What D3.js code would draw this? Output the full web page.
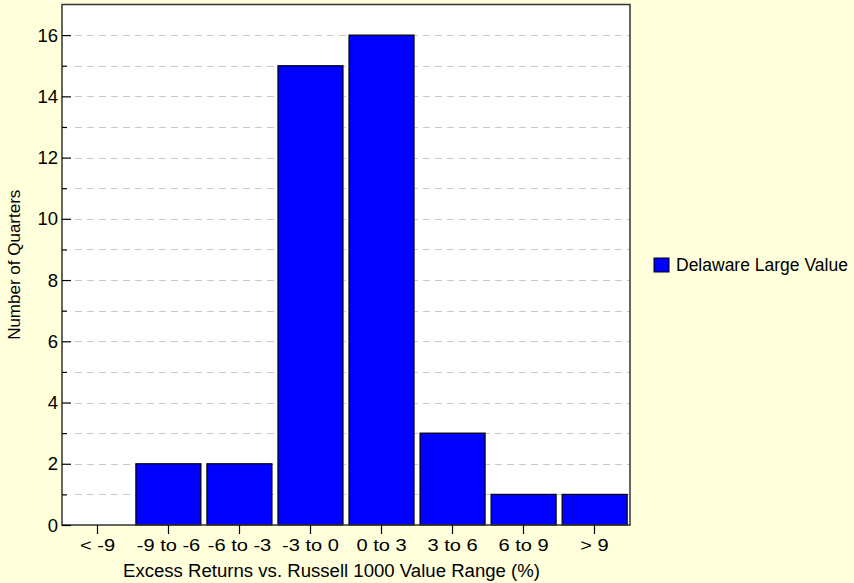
<!DOCTYPE html>
<html>
<head>
<meta charset="utf-8">
<script src="https://cdn.jsdelivr.net/npm/d3@7"></script>
<style>
  html, body { margin: 0; padding: 0; background: #FFFFDC; }
  svg { display: block; }
  text { font-family: Arial, "Liberation Sans", sans-serif; fill: #000; }
</style>
</head>
<body>
<script>
const categories = ["< -9", "-9 to -6", "-6 to -3", "-3 to 0", "0 to 3", "3 to 6", "6 to 9", "> 9"];
const values = [0, 2, 2, 15, 16, 3, 1, 1];
const seriesName = "Delaware Large Value";
const yMajorTicks = [0, 2, 4, 6, 8, 10, 12, 14, 16];
const yMinorTicks = [1, 3, 5, 7, 9, 11, 13, 15];
const xTitle = "Excess Returns vs. Russell 1000 Value Range (%)";
const yTitle = "Number of Quarters";

const W = 854, H = 583;
const plot = { left: 62, right: 630, top: 4.5, bottom: 525 };

const svg = d3.select("body").append("svg").attr("width", W).attr("height", H);
svg.append("rect").attr("width", W).attr("height", H).attr("fill", "#FFFFDC");

const x = d3.scaleBand().domain(categories).range([plot.left, plot.right]).paddingInner(0.085).paddingOuter(0.04);
const xc = d3.scaleBand().domain(categories).range([plot.left, plot.right]);
const y = d3.scaleLinear().domain([0, 17]).range([plot.bottom, plot.top]);

// plot background
svg.append("rect").attr("x", plot.left).attr("y", plot.top)
  .attr("width", plot.right - plot.left).attr("height", plot.bottom - plot.top)
  .attr("fill", "#FFFFFF");

// grid lines
svg.append("g").selectAll("line").data(yMajorTicks.concat(yMinorTicks).filter(d => d > 0))
  .join("line")
  .attr("x1", plot.left + 13).attr("x2", plot.right)
  .attr("y1", d => Math.round(y(d)) + 0.5).attr("y2", d => Math.round(y(d)) + 0.5)
  .attr("stroke", "#C8C8C8").attr("stroke-width", 1).attr("stroke-dasharray", "7,5");

// bars
svg.append("g").selectAll("rect").data(values.map((v, i) => ({ c: categories[i], v })).filter(d => d.v > 0))
  .join("rect")
  .attr("x", d => x(d.c)).attr("width", x.bandwidth())
  .attr("y", d => y(d.v)).attr("height", d => y(0) - y(d.v))
  .attr("fill", "#0000FF").attr("stroke", "#000").attr("stroke-width", 1.2);

// plot border
svg.append("rect").attr("x", plot.left).attr("y", plot.top)
  .attr("width", plot.right - plot.left).attr("height", plot.bottom - plot.top)
  .attr("fill", "none").attr("stroke", "#333").attr("stroke-width", 1.5);

// y axis (ticks inward)
const yAxis = d3.axisRight(y).tickValues(yMajorTicks).tickSize(9).tickFormat("");
const yg = svg.append("g").attr("transform", `translate(${plot.left},0)`).call(yAxis);
yg.select(".domain").remove();
yg.selectAll(".tick line").attr("stroke", "#000").attr("stroke-width", 1.2);
const yMinor = d3.axisRight(y).tickValues(yMinorTicks).tickSize(5).tickFormat("");
const ym = svg.append("g").attr("transform", `translate(${plot.left},0)`).call(yMinor);
ym.select(".domain").remove();
ym.selectAll(".tick line").attr("stroke", "#000").attr("stroke-width", 1.2);
// y labels
svg.append("g").selectAll("text").data(yMajorTicks).join("text")
  .attr("x", plot.left - 4).attr("y", d => y(d)).attr("dy", "0.36em")
  .attr("text-anchor", "end").attr("font-size", 18.5).text(d => d);

// x axis
const xAxis = d3.axisBottom(xc).tickSize(9).tickSizeOuter(0).tickPadding(5);
const xg = svg.append("g").attr("transform", `translate(0,${plot.bottom})`).call(xAxis);
xg.select(".domain").remove();
xg.selectAll(".tick line").attr("stroke", "#000").attr("stroke-width", 1.2);
xg.selectAll(".tick text").attr("font-size", 17).attr("font-family", "Arial, 'Liberation Sans', sans-serif")
  .attr("fill", "#000").attr("transform", "scale(1.18,1)");

// axis titles
svg.append("text").attr("x", 123).attr("y", 577)
  .attr("text-anchor", "start").attr("font-size", 18)
  .attr("textLength", 417).attr("lengthAdjust", "spacingAndGlyphs").text(xTitle);
svg.append("text").attr("transform", `translate(20,${(plot.top + plot.bottom) / 2}) rotate(-90)`)
  .attr("text-anchor", "middle").attr("font-size", 17).text(yTitle);

// legend
const lg = svg.append("g").attr("transform", "translate(654,258)");
lg.append("rect").attr("width", 15).attr("height", 14).attr("fill", "#0000FF").attr("stroke", "#000").attr("stroke-width", 1);
lg.append("text").attr("x", 22).attr("y", 7).attr("dy", "0.36em").attr("font-size", 17.5).text(seriesName);
</script>
</body>
</html>
